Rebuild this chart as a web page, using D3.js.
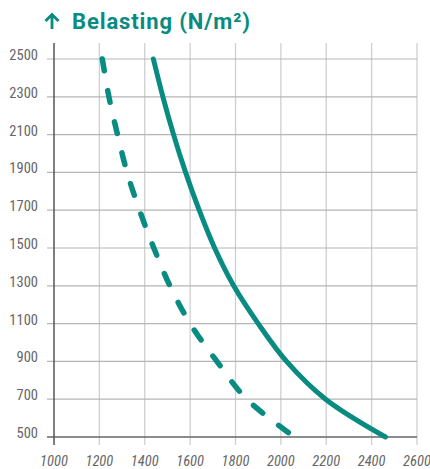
<!DOCTYPE html>
<html>
<head>
<meta charset="utf-8">
<script src="https://cdn.jsdelivr.net/npm/d3@7"></script>
<style>
  html, body { margin: 0; padding: 0; background: #fff; }
  svg { display: block; }
</style>
</head>
<body>
<svg id="chart" width="430" height="469"></svg>
<script>
// ---- data ----
const loads = [2500, 2300, 2100, 1900, 1700, 1500, 1300, 1100, 900, 700, 500];
const solidSpan = [1438, 1480, 1527, 1580, 1640, 1708, 1792, 1900, 2025, 2197, 2461];
const dashedSpan = [1213, 1242, 1280, 1322, 1377, 1440, 1511, 1600, 1718, 1850, 2060];
const xTicks = [1000, 1200, 1400, 1600, 1800, 2000, 2200, 2400, 2600];
const yTicks = [500, 700, 900, 1100, 1300, 1500, 1700, 1900, 2100, 2300, 2500];
const titleText = "Belasting (N/m²)";

const teal = "#088b80";
const svg = d3.select("#chart");

const x = d3.scaleLinear().domain([1000, 2600]).range([54, 417]);
const y = d3.scaleLinear().domain([500, 2500]).range([437, 59]);

// vertical gridlines
svg.append("g").selectAll("line").data(xTicks.slice(1)).join("line")
  .attr("x1", d => x(d)).attr("x2", d => x(d))
  .attr("y1", 43).attr("y2", 445)
  .attr("stroke", "#cfcfcf").attr("stroke-width", 1.3);

// horizontal gridlines
svg.append("g").selectAll("line").data(yTicks.slice(1)).join("line")
  .attr("x1", 47).attr("x2", x(2600))
  .attr("y1", d => y(d)).attr("y2", d => y(d))
  .attr("stroke", "#b5b5b5").attr("stroke-width", 1.2);

// axes lines
svg.append("line").attr("x1", 47).attr("x2", x(2600))
  .attr("y1", y(500)).attr("y2", y(500))
  .attr("stroke", "#666").attr("stroke-width", 1.5);
svg.append("line").attr("x1", x(1000)).attr("x2", x(1000))
  .attr("y1", 43).attr("y2", 445)
  .attr("stroke", "#555").attr("stroke-width", 1.5);

// y labels
svg.append("g").selectAll("text").data(yTicks).join("text")
  .attr("x", 38).attr("y", d => y(d) + 1)
  .attr("text-anchor", "end")
  .attr("font-family", "'Liberation Sans Narrow', 'Roboto Condensed', 'DejaVu Sans Condensed', sans-serif")
  .attr("font-size", 14.5)
  .attr("fill", "#666")
  .text(d => d);

// x labels
svg.append("g").selectAll("text").data(xTicks).join("text")
  .attr("x", d => x(d)).attr("y", 466)
  .attr("text-anchor", "middle")
  .attr("font-family", "'Liberation Sans Narrow', 'Roboto Condensed', 'DejaVu Sans Condensed', sans-serif")
  .attr("font-style", "italic")
  .attr("font-size", 14.5)
  .attr("fill", "#666")
  .text(d => d);

// curves
const line = d3.line()
  .x(d => x(d[0])).y(d => y(d[1]))
  .curve(d3.curveCatmullRom.alpha(0.5));

svg.append("path")
  .datum(loads.map((l, i) => [solidSpan[i], l]))
  .attr("d", line)
  .attr("fill", "none").attr("stroke", teal)
  .attr("stroke-width", 5).attr("stroke-linecap", "round");

svg.append("path")
  .datum(loads.map((l, i) => [dashedSpan[i], l]))
  .attr("d", line)
  .attr("fill", "none").attr("stroke", teal)
  .attr("stroke-width", 5.5).attr("stroke-linecap", "round")
  .attr("stroke-dasharray", "12,20");

// title
const title = svg.append("g").attr("transform", "translate(44,29)");
// arrow
title.append("path")
  .attr("d", "M8,0 L8,-14 M1.5,-8 L8,-14.5 L14.5,-8")
  .attr("fill", "none").attr("stroke", teal)
  .attr("stroke-width", 2.8).attr("stroke-linejoin", "miter");
title.append("text")
  .attr("x", 28).attr("y", 0)
  .attr("font-family", "Roboto, 'Noto Sans', sans-serif")
  .attr("font-weight", "bold")
  .attr("font-size", 22)
  .attr("fill", teal)
  .attr("textLength", 178)
  .attr("lengthAdjust", "spacing")
  .text(titleText);
</script>
</body>
</html>
